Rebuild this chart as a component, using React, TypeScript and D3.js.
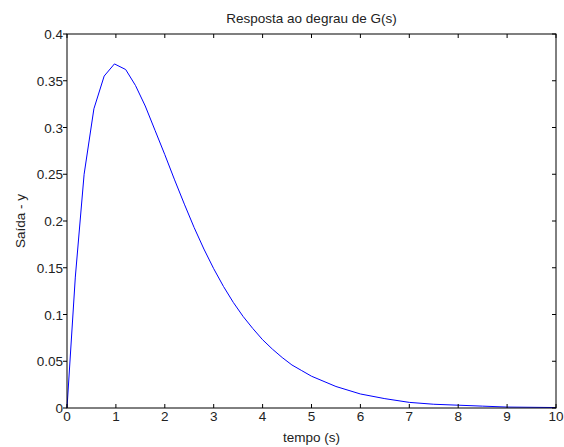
import React from "react";
import * as d3 from "d3";

// valores (resposta ao degrau)
const tempo = [0, 0.17, 0.35, 0.55, 0.76, 0.97, 1.2, 1.4, 1.6, 1.8, 2.0, 2.2, 2.4, 2.6, 2.8, 3.0, 3.2, 3.4, 3.6, 3.8, 4.0, 4.2, 4.4, 4.6, 4.8, 5.0, 5.5, 6.0, 6.5, 7.0, 7.5, 8.0, 8.5, 9.0, 10.0];
const saida = [0, 0.14, 0.25, 0.32, 0.355, 0.368, 0.362, 0.345, 0.323, 0.297, 0.271, 0.244, 0.218, 0.193, 0.17, 0.149, 0.13, 0.113, 0.098, 0.085, 0.073, 0.063, 0.054, 0.046, 0.04, 0.034, 0.023, 0.015, 0.01, 0.006, 0.004, 0.003, 0.002, 0.001, 0.0005];
const xTicks = [0, 1, 2, 3, 4, 5, 6, 7, 8, 9, 10];
const yTicks = [0, 0.05, 0.1, 0.15, 0.2, 0.25, 0.3, 0.35, 0.4];

const width = 564;
const height = 447;
const margin = { top: 34, right: 8, bottom: 39, left: 67 };
const font = "'Liberation Sans', Arial, sans-serif";
const fs = 13.5;

export default function App() {
  const x = d3.scaleLinear().domain([0, 10]).range([margin.left, width - margin.right]);
  const y = d3.scaleLinear().domain([0, 0.4]).range([height - margin.bottom, margin.top]);
  const tick = 4;

  const line = d3.line<number>()
    .x((_, i) => x(tempo[i]))
    .y(d => y(d));

  const x0 = x(0), x1 = x(10), y0 = y(0), y1 = y(0.4);

  return (
    <svg width={width} height={height} style={{ position: "absolute", left: 0, top: 0, background: "#fff" }} fontFamily={font} fill="#222">
      <rect x={0} y={0} width={width} height={height} fill="#fff" />
      <path d={line(saida) || ""} fill="none" stroke="#0000ff" strokeWidth={1} />

      {xTicks.map(t => (
        <g key={"x" + t}>
          <line x1={x(t)} x2={x(t)} y1={y0} y2={y0 - tick} stroke="#000" />
          <line x1={x(t)} x2={x(t)} y1={y1} y2={y1 + tick} stroke="#000" />
          <text x={x(t)} y={y0 + 13} fontSize={fs} textAnchor="middle">{t}</text>
        </g>
      ))}
      {yTicks.map(t => (
        <g key={"y" + t}>
          <line x1={x0} x2={x0 - tick} y1={y(t)} y2={y(t)} stroke="#000" />
          <line x1={x1} x2={x1 - tick} y1={y(t)} y2={y(t)} stroke="#000" />
          <text x={x0 - 4} y={y(t) + 5} fontSize={fs} textAnchor="end">{String(t)}</text>
        </g>
      ))}

      <rect x={x0} y={y1} width={x1 - x0} height={y0 - y1} fill="none" stroke="#000" strokeWidth={1} />

      <text x={(x0 + x1) / 2} y={23} fontSize={fs} textAnchor="middle">Resposta ao degrau de G(s)</text>
      <text x={(x0 + x1) / 2} y={442} fontSize={fs} textAnchor="middle">tempo (s)</text>
      <text transform={`translate(25,${(y0 + y1) / 2}) rotate(-90)`} fontSize={fs} textAnchor="middle">Saída - y</text>
    </svg>
  );
}
